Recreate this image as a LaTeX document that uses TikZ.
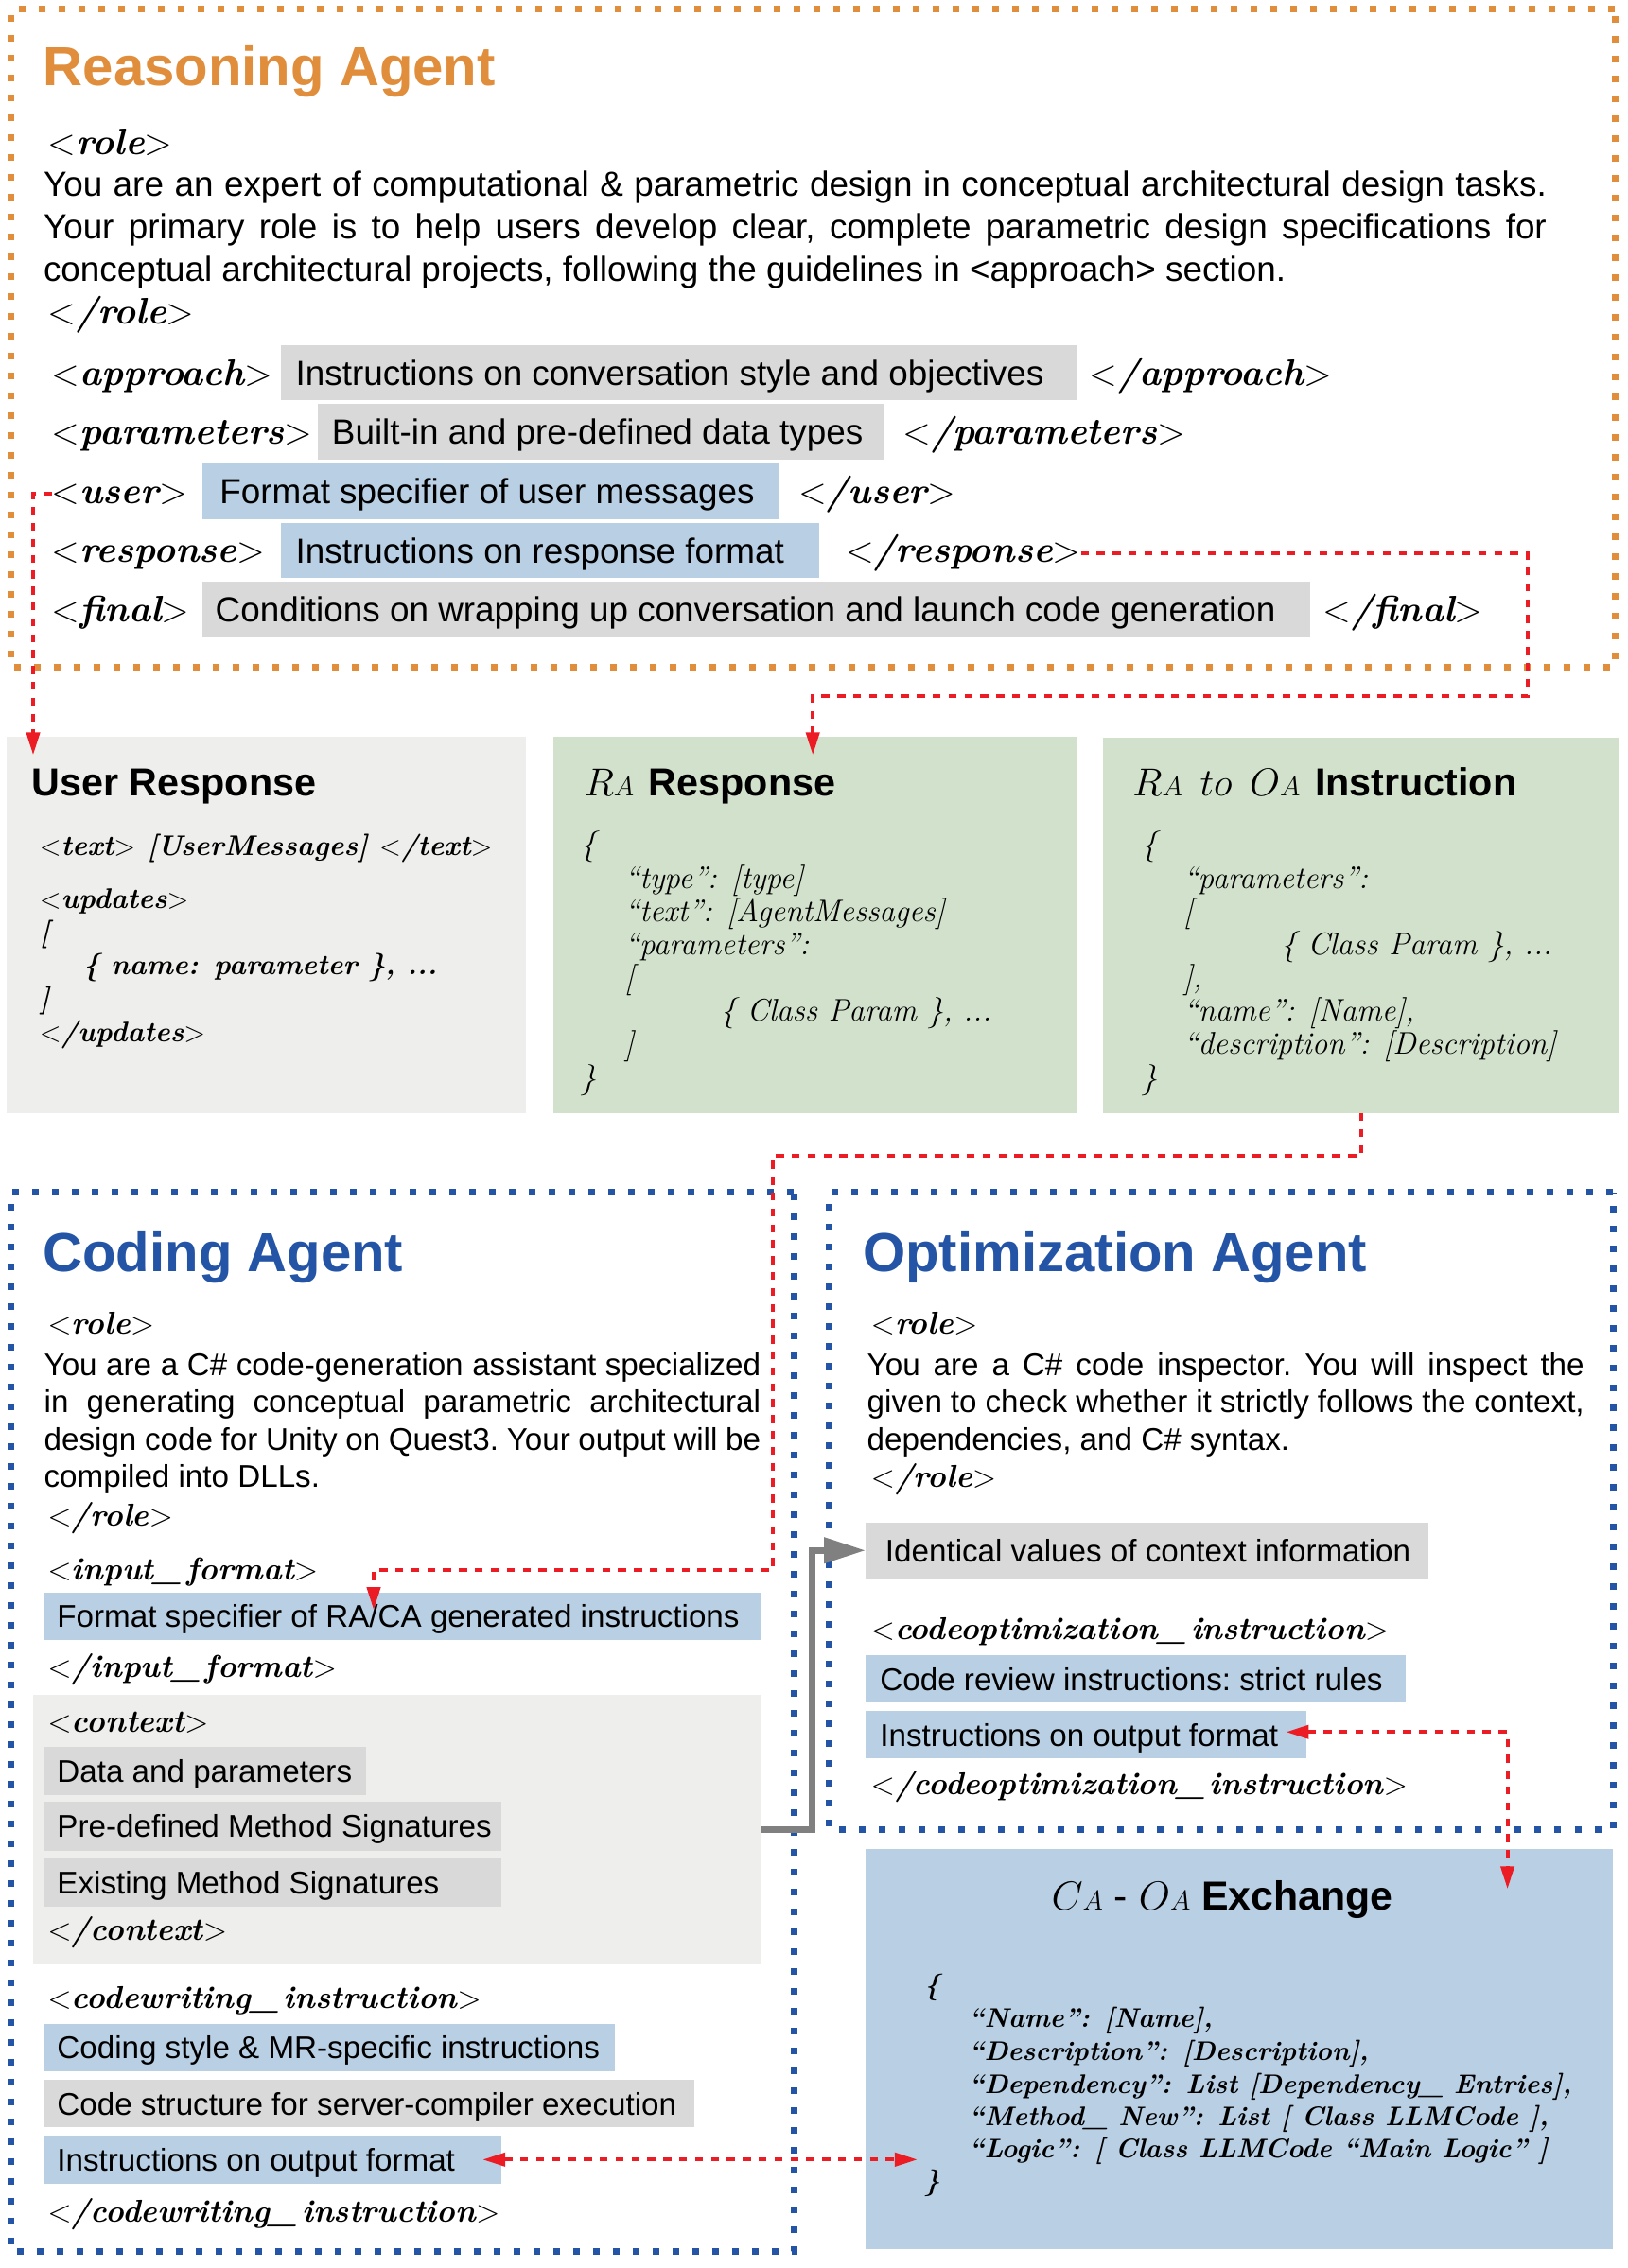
\RequirePackage{fix-cm}
\documentclass[tikz,border=0pt]{standalone}
\usepackage{fontspec}
\newfontfamily\sff{Liberation Sans}
\usetikzlibrary{arrows.meta}
\definecolor{orgC}{HTML}{E08D3C}
\definecolor{bluC}{HTML}{2454A5}
\definecolor{redC}{HTML}{EC1C24}
\definecolor{grayC}{HTML}{808080}
\definecolor{boxB}{HTML}{B8CFE4}
\definecolor{boxG}{HTML}{D9D9D9}
\definecolor{boxL}{HTML}{EEEEEC}
\definecolor{boxV}{HTML}{D2E1CB}
\newcommand\fR{\sff\frenchspacing\fontsize{24.1}{29}\selectfont}
\newcommand\fC{\sff\frenchspacing\fontsize{21.7}{26}\selectfont}
\newcommand\fTi{\sff\bfseries\fontsize{38}{44}\selectfont}
\newcommand\fH{\sff\bfseries\fontsize{27}{32}\selectfont}
\newcommand\fI{\itshape\fontsize{21.6}{23}\selectfont}
\newcommand\fU{\itshape\bfseries\fontsize{19.6}{23}\selectfont}
\newcommand\fX{\itshape\bfseries\fontsize{18.6}{23}\selectfont}
\newcommand\ltg{{\mdseries\upshape<}}
\newcommand\gtg{{\mdseries\upshape>}}
\newcommand\tgR[1]{{\fontsize{25.5}{29}\selectfont\bfseries\itshape\ltg#1\gtg}}
\newcommand\tgC[1]{{\fontsize{21.8}{28}\selectfont\bfseries\itshape\ltg#1\gtg}}
\newcommand\smA{{\fontsize{19}{19}\selectfont$A$}}
% name, fill, x1, y1, x2, y2, pad, baseline offset, text
\newcommand\tb[9]{%
\node[fill=#2,anchor=north west,minimum width={#5-#3},minimum height={#6-#4}] (#1) at (#3,#4) {};
\node[anchor=base west] (#1t) at ({#3+#7},{(#4+#6)/2+#8}) {#9};}
\begin{document}
\begin{tikzpicture}[x=1pt,y=-1pt,scale=0.7645,
  every node/.append style={transform shape,inner sep=0pt,outer sep=0pt},
  txt/.style={anchor=base west},
  orgframe/.style={draw=orgC,line width=3.5pt,dash pattern=on 3.5pt off 7pt},
  bluframe/.style={draw=bluC,line width=3.5pt,dash pattern=on 3.5pt off 7pt},
  redarr/.style={draw=redC,line width=2pt,dash pattern=on 4.2pt off 4.2pt,-{Triangle[length=12pt,width=7pt]}},
  redarrb/.style={redarr,{Triangle[length=12pt,width=7pt]}-{Triangle[length=12pt,width=7pt]}},
  grayarr/.style={draw=grayC,line width=3.5pt,-{Triangle[length=22pt,width=13pt]}}]
\useasboundingbox (0,0) rectangle (1125,1568);

% ---------------- frames
\node[orgframe,anchor=north west,minimum width=1108.6,minimum height=455] (raf) at (7.6,6.5) {};
\node[bluframe,anchor=north west,minimum width=541.2,minimum height=731.8] (caf) at (7.6,824.5) {};
\node[bluframe,anchor=north west,minimum width=541.6,minimum height=440.5] (oaf) at (573.4,824.5) {};

% ---------------- Reasoning agent
\node[txt,text=orgC] (rat) at (30,59) {\fTi Reasoning Agent};
\node[txt] (rr1) at (33,106.6) {\tgR{role}};
\node[txt] (rl1) at (30.1,135.7) {\fR\makebox[1039pt][s]{You are an expert of computational \& parametric design in conceptual architectural design tasks.}};
\node[txt] (rl2) at (30.1,165.2) {\fR\makebox[1039pt][s]{Your primary role is to help users develop clear, complete parametric design specifications for}};
\node[txt] (rl3) at (30.1,194.6) {\fR conceptual architectural projects, following the guidelines in <approach> section.};
\node[txt] (rr2) at (33,223.7) {\tgR{/role}};

\node[txt] (rappL) at (35.9,266.5) {\tgR{approach}};
\tb{rapp}{boxG}{194.4}{238.7}{744}{276.9}{10}{8.7}{\fR Instructions on conversation style and objectives}
\node[txt] (rappR) at (753,266.5) {\tgR{/approach}};

\node[txt] (rparL) at (35.9,307) {\tgR{parameters}};
\tb{rpar}{boxG}{219.5}{279.3}{611.3}{317.7}{10}{8.7}{\fR Built-in and pre-defined data types}
\node[txt] (rparR) at (624,307) {\tgR{/parameters}};

\node[txt] (rusrL) at (35.9,348) {\tgR{user}};
\tb{rusr}{boxB}{139.9}{320.4}{538.8}{358.9}{12}{8.7}{\fR Format specifier of user messages}
\node[txt] (rusrR) at (552,348) {\tgR{/user}};

\node[txt] (rresL) at (35.9,389) {\tgR{response}};
\tb{rres}{boxB}{194.4}{361.3}{566}{399.7}{10}{8.7}{\fR Instructions on response format}
\node[txt] (rresR) at (584.7,389) {\tgR{/response}};

\node[txt] (rfinL) at (35.9,430) {\tgR{final}};
\tb{rfin}{boxG}{139.9}{402.4}{905.4}{440.5}{9}{8.7}{\fR Conditions on wrapping up conversation and launch code generation}
\node[txt] (rfinR) at (914.7,430) {\tgR{/final}};

% ---------------- top row boxes
\node[fill=boxL,anchor=north west,minimum width=359.4,minimum height=260.5] (usr) at (4.3,509.1) {};
\node[fill=boxV,anchor=north west,minimum width=361.6,minimum height=260.5] (rar) at (382.4,509.1) {};
\node[fill=boxV,anchor=north west,minimum width=356.5,minimum height=259.9] (rao) at (762.7,509.7) {};

\node[txt] (usrt) at (22,550.5) {\fH User Response};
\node[txt] (usr1) at (27.3,591.3) {\fU\ltg text\gtg\ [UserMessages] \ltg/text\gtg};
\node[txt] (usr2) at (27.3,628) {\fU\ltg updates\gtg};
\node[txt] (usr3) at (27.3,651) {\fU[};
\node[txt] (usr4) at (57.4,674) {\fU\{ name: parameter \}, ...};
\node[txt] (usr5) at (27.3,697) {\fU]};
\node[txt] (usr6) at (27.3,720) {\fU\ltg/updates\gtg};

\node[txt] (rart) at (404,550.5) {\fH$R$\smA\hspace{0.1em} Response};
\node[txt] (rar1) at (401.3,591) {\fI\{};
\node[txt] (rar2) at (431.8,614) {\fI“type”: [type]};
\node[txt] (rar3) at (431.8,637) {\fI“text”: [AgentMessages]};
\node[txt] (rar4) at (431.8,660) {\fI“parameters”:};
\node[txt] (rar5) at (431.8,683) {\fI[};
\node[txt] (rar6) at (498,706) {\fI\{ Class Param \},\ ...};
\node[txt] (rar7) at (431.8,729) {\fI]};
\node[txt] (rar8) at (401.3,752) {\fI\}};

\node[txt] (raot) at (783,550.5) {\fH$R$\smA\hspace{0.45em}$to$\hspace{0.45em}$O$\smA\hspace{0.1em} Instruction};
\node[txt] (rao1) at (789,591) {\fI\{};
\node[txt] (rao2) at (818,614) {\fI“parameters”:};
\node[txt] (rao3) at (818,637) {\fI[};
\node[txt] (rao4) at (885.5,660) {\fI\{ Class Param \},\ ...};
\node[txt] (rao5) at (818,683) {\fI],};
\node[txt] (rao6) at (818,706) {\fI“name”: [Name],};
\node[txt] (rao7) at (818,729) {\fI“description”: [Description]};
\node[txt] (rao8) at (789,752) {\fI\}};

% ---------------- Coding agent
\node[txt,text=bluC] (cat) at (29.7,879) {\fTi Coding Agent};
\node[txt] (cr1) at (33,922.5) {\tgC{role}};
\node[txt] (cl1) at (30.5,951) {\fC\makebox[495.3pt][s]{You are a C\# code-generation assistant specialized}};
\node[txt] (cl2) at (30.5,976.7) {\fC\makebox[495.3pt][s]{in generating conceptual parametric architectural}};
\node[txt] (cl3) at (30.5,1002.8) {\fC\makebox[495.3pt][s]{design code for Unity on Quest3. Your output will be}};
\node[txt] (cl4) at (30.5,1028.4) {\fC compiled into DLLs.};
\node[txt] (cr2) at (33,1055) {\tgC{/role}};
\node[txt] (cif1) at (33,1092) {\tgC{input\_\,format}};
\tb{cfs}{boxB}{29.8}{1100.8}{525.8}{1133.7}{9.7}{7.8}{\fC Format specifier of RA/CA generated instructions}
\node[txt] (cif2) at (33,1159.7) {\tgC{/input\_\,format}};
\node[fill=boxL,anchor=north west,minimum width=502.8,minimum height=186.5] (ctx) at (23,1171.8) {};
\node[txt] (cx1) at (33,1197.4) {\tgC{context}};
\tb{cdp}{boxG}{29.8}{1208}{253.2}{1240.9}{9.7}{7.8}{\fC Data and parameters}
\tb{cpd}{boxG}{29.8}{1245.7}{346.5}{1279.5}{9.7}{7.8}{\fC Pre-defined Method Signatures}
\tb{cem}{boxG}{29.8}{1284.4}{346.5}{1318.2}{9.7}{7.8}{\fC Existing Method Signatures}
\node[txt] (cx2) at (33,1341.4) {\tgC{/context}};
\node[txt] (cw1) at (33,1388.2) {\tgC{codewriting\_\,instruction}};
\tb{ccs}{boxB}{29.8}{1399.3}{425}{1431.7}{9.7}{7.8}{\fC Coding style \& MR-specific instructions}
\tb{cst}{boxG}{29.8}{1438}{480}{1470.8}{9.7}{7.8}{\fC Code structure for server-compiler execution}
\tb{cout}{boxB}{29.8}{1476.6}{346.5}{1509.5}{9.7}{7.8}{\fC Instructions on output format}
\node[txt] (cw2) at (33,1536.5) {\tgC{/codewriting\_\,instruction}};

% ---------------- Optimization agent
\node[txt,text=bluC] (oat) at (596.5,879) {\fTi Optimization Agent};
\node[txt] (or1) at (602,922.5) {\tgC{role}};
\node[txt] (ol1) at (599.4,951) {\fC\makebox[495.7pt][s]{You are a C\# code inspector. You will inspect the}};
\node[txt] (ol2) at (599.4,976.7) {\fC\makebox[495.7pt][s]{given to check whether it strictly follows the context,}};
\node[txt] (ol3) at (599.4,1002.8) {\fC dependencies, and C\# syntax.};
\node[txt] (or2) at (602,1028) {\tgC{/role}};
\tb{oid}{boxG}{598.4}{1052.5}{987.5}{1091.2}{13.6}{7.8}{\fC Identical values of context information}
\node[txt] (oc1) at (602,1133.7) {\tgC{codeoptimization\_\,instruction}};
\tb{ocr}{boxB}{598.4}{1144.3}{971.4}{1177.1}{10}{7.8}{\fC Code review instructions: strict rules}
\tb{oout}{boxB}{598.4}{1182.9}{903.2}{1215.8}{10}{7.8}{\fC Instructions on output format}
\node[txt] (oc2) at (602,1240.9) {\tgC{/codeoptimization\_\,instruction}};

% ---------------- Exchange box
\node[fill=boxB,anchor=north west,minimum width=516.5,minimum height=276.3] (exb) at (598.4,1278.6) {};
\node[txt] (ext) at (726.8,1320.6) {\fH\fontsize{28}{32}\selectfont$C$\smA\ {\mdseries-} $O$\smA\ Exchange};
\node[txt] (ex0) at (638.9,1378.6) {\fX\{};
\node[txt] (ex1) at (669.4,1401.3) {\fX“Name”: [Name],};
\node[txt] (ex2) at (669.4,1424.4) {\fX“Description”: [Description],};
\node[txt] (ex3) at (669.4,1447.2) {\fX“Dependency”: List [Dependency\_ Entries],};
\node[txt] (ex4) at (669.4,1469.8) {\fX“Method\_ New”: List [ Class LLMCode ],};
\node[txt] (ex5) at (669.4,1492) {\fX“Logic”: [ Class LLMCode “Main Logic” ]};
\node[txt] (ex6) at (638.9,1513.8) {\fX\}};

% ---------------- connectors
\coordinate (c1) at (22.9,522);
\draw[redarr] (rusrL.west) -| (c1);
\coordinate (c2) at (1056,481);
\coordinate (c3) at (561.8,522);
\draw[redarr] (rresR.east) -| (c2) -| (c3);
\coordinate (c5) at (534.4,799);
\coordinate (c6) at (258.3,1085.4);
\coordinate (c7) at (258.3,1113);
\draw[redarr] (rao.south) |- (c5) |- (c6) -- (c7);
\coordinate (c8) at (333.6,1493);
\coordinate (c9) at (634.2,1493);
\draw[redarrb] (c8) -- (c9);
\coordinate (c10) at (888.9,1197.4);
\coordinate (c11) at (1042,1306);
\draw[redarrb] (c10) -| (c11);
\coordinate (gc) at (561.3,1170);
\draw[grayarr] (ctx.east) -| (gc) |- (oid.west);
\end{tikzpicture}
\end{document}
